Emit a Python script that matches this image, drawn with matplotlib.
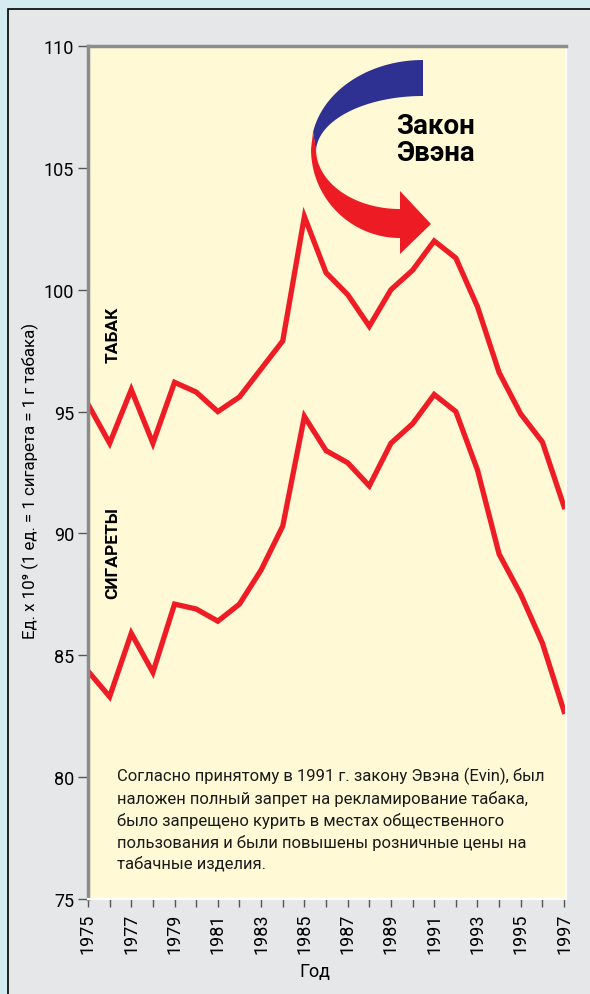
import numpy as np
import matplotlib
matplotlib.use("Agg")
import matplotlib.pyplot as plt
from matplotlib.patches import Polygon, Rectangle

plt.rcParams['font.family'] = ['Roboto', 'DejaVu Sans']

years = list(range(1975, 1998))
tabak = [95.3, 93.7, 95.9, 93.7, 96.2, 95.8, 95.0, 95.6, 96.75, 97.9, 103.0, 100.7,
         99.8, 98.5, 100.0, 100.8, 102.0, 101.3, 99.3, 96.6, 94.9, 93.75, 91.1]
sigarety = [84.35, 83.3, 85.9, 84.3, 87.1, 86.9, 86.4, 87.1, 88.5, 90.3, 94.8, 93.4,
            92.9, 91.95, 93.7, 94.5, 95.7, 95.0, 92.6, 89.15, 87.5, 85.5, 82.7]
yticks = [75, 80, 85, 90, 95, 100, 105, 110]
xlabels = list(range(1975, 1998, 2))

W, H = 590, 995
fig = plt.figure(figsize=(W / 100, H / 100), dpi=100)
fig.patch.set_facecolor('#d4ebf1')

# background panel
bg = fig.add_axes([0, 0, 1, 1], zorder=0)
bg.set_xlim(0, W)
bg.set_ylim(H, 0)
bg.axis('off')
bg.add_patch(Rectangle((8, 10), W, H, facecolor='#e6e7e8', edgecolor='black', linewidth=1.2))

# main chart
ax = fig.add_axes([88 / W, (H - 900) / H, (566 - 88) / W, (900 - 47) / H], zorder=1)
ax.set_facecolor('#fff9d6')
ax.plot(years, tabak, color='#ee1c25', linewidth=3.8, solid_joinstyle='miter')
ax.plot(years, sigarety, color='#ee1c25', linewidth=3.8, solid_joinstyle='miter')
ax.set_xlim(1975, 1997.09)
ax.set_ylim(75, 110)

for s in ['left', 'top']:
    ax.spines[s].set_color('#8a8c8e')
    ax.spines[s].set_linewidth(2.5)
for s in ['right', 'bottom']:
    ax.spines[s].set_color('white')
    ax.spines[s].set_linewidth(1.5)

ax.set_yticks(yticks)
ax.set_yticklabels([str(v) for v in yticks], fontsize=13)
ax.set_xticks(years)
ax.set_xticklabels([str(y) if y in xlabels else '' for y in years], rotation=90, fontsize=13)
ax.tick_params(axis='y', direction='out', length=7, width=1, color='#555555', pad=3)
ax.tick_params(axis='x', direction='out', length=6, width=1, color='#555555', pad=4)

# overlay in pixel coordinates for labels and the law arrow
ov = fig.add_axes([0, 0, 1, 1], zorder=2)
ov.set_xlim(0, W)
ov.set_ylim(H, 0)
ov.axis('off')
ov.patch.set_alpha(0)

ov.text(30, 481, 'Ед. x 10⁹ (1 ед. = 1 сигарета = 1 г табака)', rotation=90,
        fontsize=12.2, ha='center', va='center')
ov.text(315, 972, 'Год', fontsize=13, ha='center', va='center')

ov.text(113, 335, 'ТАБАК', rotation=90, fontsize=12.5, fontweight='bold', ha='center', va='center')
ov.text(113, 553, 'СИГАРЕТЫ', rotation=90, fontsize=12.5, fontweight='bold', ha='center', va='center')
ov.text(396, 140, 'Закон\nЭвэна', fontsize=20, fontweight='bold', ha='left', va='center',
        linespacing=1.0)

note = ('Согласно принятому в 1991 г. закону Эвэна (Evin), был\n'
        'наложен полный запрет на рекламирование табака,\n'
        'было запрещено курить в местах общественного\n'
        'пользования и были повышены розничные цены на\n'
        'табачные изделия.')
ov.text(117, 820, note, fontsize=12, ha='left', va='center', linespacing=1.45, color='#1a1a1a')

# curved arrow: blue upper half
tb_o = np.linspace(np.radians(90), np.radians(169), 60)
tb_i = np.linspace(np.radians(90), np.radians(180), 60)
blue = np.vstack([np.column_stack([423 + 112 * np.cos(tb_o), 150 - 89 * np.sin(tb_o)]),
                  np.column_stack([423 + 107 * np.cos(tb_i), 153 - 56 * np.sin(tb_i)])[::-1]])
ov.add_patch(Polygon(blue, closed=True, facecolor='#2e3192', edgecolor='none'))

# red lower half with head
tr = np.linspace(np.radians(180), np.radians(270), 60)
red_outer = np.column_stack([400 + 89 * np.cos(tr), 150 - 89 * np.sin(tr)])
red_inner = np.column_stack([400 + 84 * np.cos(tr), 150 - 60 * np.sin(tr)])
red = np.vstack([[[313, 133]], red_outer,
                 [[400, 255], [431, 225], [400, 192]],
                 red_inner[::-1]])
ov.add_patch(Polygon(red, closed=True, facecolor='#ed1c24', edgecolor='none'))

fig.savefig('out.png', dpi=100, facecolor=fig.get_facecolor())
